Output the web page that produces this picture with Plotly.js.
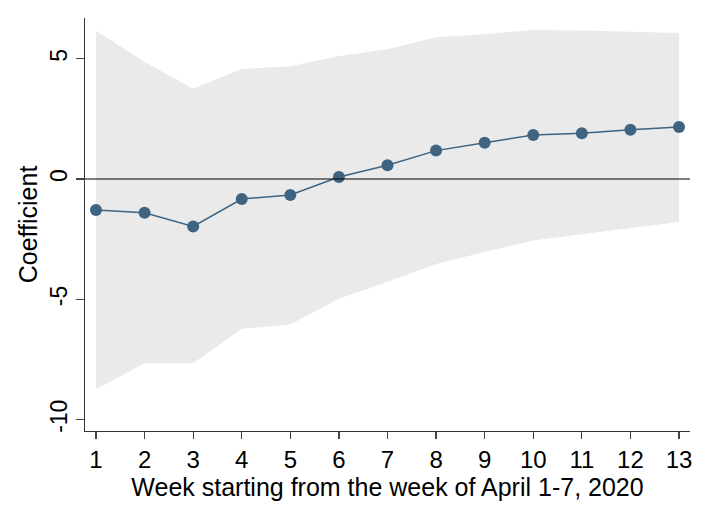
<!DOCTYPE html>
<html>
<head>
<meta charset="utf-8">
<script src="https://cdn.plot.ly/plotly-3.0.1.min.js"></script>
<style>
  html, body { margin: 0; padding: 0; background: #fff; }
  #chart { width: 709px; height: 516px; }
</style>
</head>
<body>
<div id="chart"></div>
<script>
// week index, point estimates and 95% CI bounds
var weeks = [1, 2, 3, 4, 5, 6, 7, 8, 9, 10, 11, 12, 13];
var coef = [-1.29, -1.40, -1.97, -0.83, -0.66, 0.08, 0.57, 1.18, 1.51, 1.83, 1.90, 2.05, 2.16];
var ciUpper = [6.16, 4.87, 3.75, 4.57, 4.69, 5.11, 5.39, 5.89, 6.01, 6.19, 6.17, 6.13, 6.07];
var ciLower = [-8.74, -7.66, -7.66, -6.22, -6.05, -4.97, -4.27, -3.53, -3.03, -2.55, -2.30, -2.05, -1.79];
var yTicks = [-10, -5, 0, 5];
var yTickText = ['-10', '-5', '0', '5'];

var navy = '#3e6482';

var traces = [
    {
        x: weeks, y: ciUpper,
        type: 'scatter', mode: 'lines',
        line: { width: 0 },
        hoverinfo: 'skip', showlegend: false
    },
    {
        x: weeks, y: ciLower,
        type: 'scatter', mode: 'lines',
        line: { width: 0 },
        fill: 'tonexty', fillcolor: '#eaeaea',
        hoverinfo: 'skip', showlegend: false
    },
    {
        x: weeks, y: coef,
        type: 'scatter', mode: 'lines+markers',
        line: { color: navy, width: 1.5 },
        marker: { color: navy, size: 12 },
        showlegend: false
    }
];

var layout = {
    width: 709,
    height: 516,
    margin: { l: 85, r: 19, t: 18, b: 85 },
    paper_bgcolor: '#fff',
    plot_bgcolor: '#fff',
    font: { family: '"Liberation Sans", Arial, sans-serif', color: '#000' },
    xaxis: {
        range: [0.774, 13.226],
        tickvals: weeks,
        ticks: 'outside', ticklen: 7, tickcolor: '#444', tickwidth: 1.2,
        tickfont: { size: 24 },
        showgrid: false, zeroline: false,
        showline: true, linecolor: '#333', linewidth: 1.2,
        title: { text: 'Week starting from the week of April 1-7, 2020', font: { size: 25 }, standoff: 0 }
    },
    yaxis: {
        range: [-10.47, 6.69],
        tickvals: yTicks,
        ticktext: yTickText,
        tickangle: -90,
        ticks: 'outside', ticklen: 8, tickcolor: '#444', tickwidth: 1.2,
        tickfont: { size: 23 },
        showgrid: false, zeroline: false,
        showline: true, linecolor: '#333', linewidth: 1.2,
        title: { text: 'Coefficient', font: { size: 25 }, standoff: 0 }
    },
    // reference line at zero, drawn over the CI band
    shapes: [{
        type: 'line', layer: 'above',
        xref: 'paper', x0: 0, x1: 1,
        yref: 'y', y0: 0, y1: 0,
        line: { color: '#000', width: 1.2 }
    }]
};

Plotly.newPlot('chart', traces, layout, { displayModeBar: false, staticPlot: true });
</script>
</body>
</html>
